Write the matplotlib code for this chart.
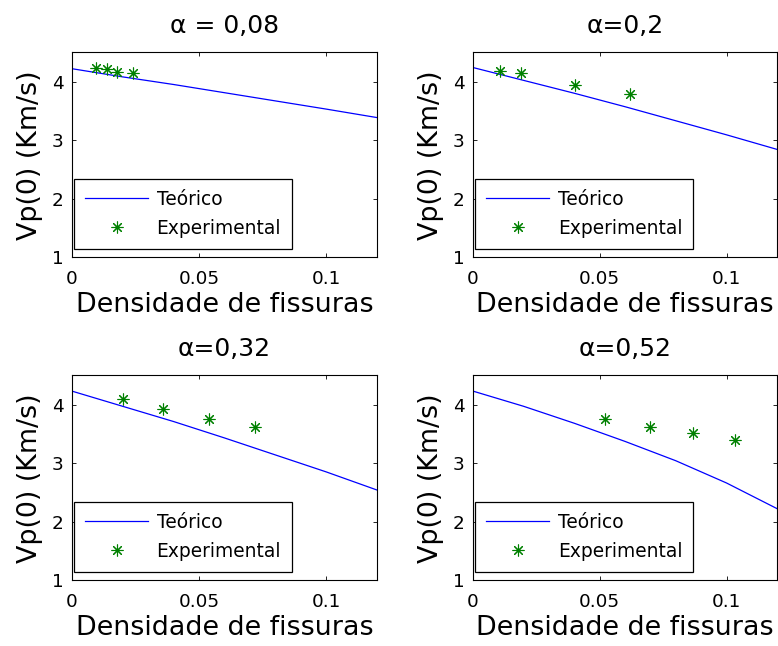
import matplotlib
matplotlib.use("Agg")
import matplotlib.pyplot as plt

plt.rcParams["font.family"] = ["DejaVu Sans"]

# densidade de fissuras sampled along the theoretical curves
x_teo = [0.0, 0.02, 0.04, 0.06, 0.08, 0.10, 0.12]

titles = ["\u03b1 = 0,08", "\u03b1=0,2", "\u03b1=0,32", "\u03b1=0,52"]

# theoretical Vp(0), one list per alpha
teo_008 = [4.22, 4.08, 3.95, 3.81, 3.67, 3.53, 3.385]
teo_020 = [4.24, 4.02, 3.80, 3.57, 3.33, 3.09, 2.84]
teo_032 = [4.23, 3.97, 3.71, 3.43, 3.14, 2.85, 2.54]
teo_052 = [4.23, 3.97, 3.68, 3.37, 3.04, 2.66, 2.22]

# experimental points
exp_x_008 = [0.0093, 0.0136, 0.0178, 0.0239]
exp_y_008 = [4.24, 4.21, 4.17, 4.15]
exp_x_020 = [0.0108, 0.0190, 0.0402, 0.0619]
exp_y_020 = [4.18, 4.14, 3.95, 3.78]
exp_x_032 = [0.0202, 0.0360, 0.0540, 0.0720]
exp_y_032 = [4.10, 3.92, 3.76, 3.62]
exp_x_052 = [0.0520, 0.0699, 0.0868, 0.1032]
exp_y_052 = [3.75, 3.62, 3.51, 3.40]

panels = [
    (titles[0], teo_008, exp_x_008, exp_y_008),
    (titles[1], teo_020, exp_x_020, exp_y_020),
    (titles[2], teo_032, exp_x_032, exp_y_032),
    (titles[3], teo_052, exp_x_052, exp_y_052),
]

# axes rectangles in figure fraction (left, bottom, width, height)
rects = [
    (0.0925, 0.602, 0.392, 0.317),
    (0.608, 0.602, 0.391, 0.317),
    (0.0925, 0.102, 0.392, 0.317),
    (0.608, 0.102, 0.391, 0.317),
]

star = (8, 2, 0)  # MATLAB-like '*' marker

fig = plt.figure(figsize=(7.78, 6.46), dpi=100)
for rect, (title, teo, ex, ey) in zip(rects, panels):
    ax = fig.add_axes(rect)
    ax.plot(x_teo, teo, color="#0000ff", lw=0.9, label="Teórico")
    ax.plot(ex, ey, ls="none", marker=star, ms=8.5, mew=0.8,
            color="#008000", label="Experimental")
    ax.set_xlim(0, 0.12)
    ax.set_ylim(1, 4.5)
    ax.set_xticks([0, 0.05, 0.1])
    ax.set_xticklabels(["0", "0.05", "0.1"])
    ax.set_yticks([1, 2, 3, 4])
    ax.tick_params(direction="in", length=3, top=True, right=True,
                   labelsize=13.3, width=0.6)
    ax.tick_params(axis="x", pad=9)
    ax.tick_params(axis="y", pad=6)
    for s in ax.spines.values():
        s.set_linewidth(0.8)
    ax.set_xlabel("Densidade de fissuras", fontsize=19.4, labelpad=3)
    ax.set_ylabel("Vp(0) (Km/s)", fontsize=19.4, labelpad=6)
    ax.set_title(title, fontsize=18, pad=14)
    leg = ax.legend(loc="lower left", bbox_to_anchor=(0.006, 0.039),
                    borderaxespad=0, fontsize=13.4, numpoints=1,
                    handlelength=3.4, handletextpad=0.45, labelspacing=0.55,
                    borderpad=0.6, fancybox=False, framealpha=1)
    leg.get_frame().set_edgecolor("black")
    leg.get_frame().set_linewidth(0.9)

fig.savefig("out.png", dpi=100)
